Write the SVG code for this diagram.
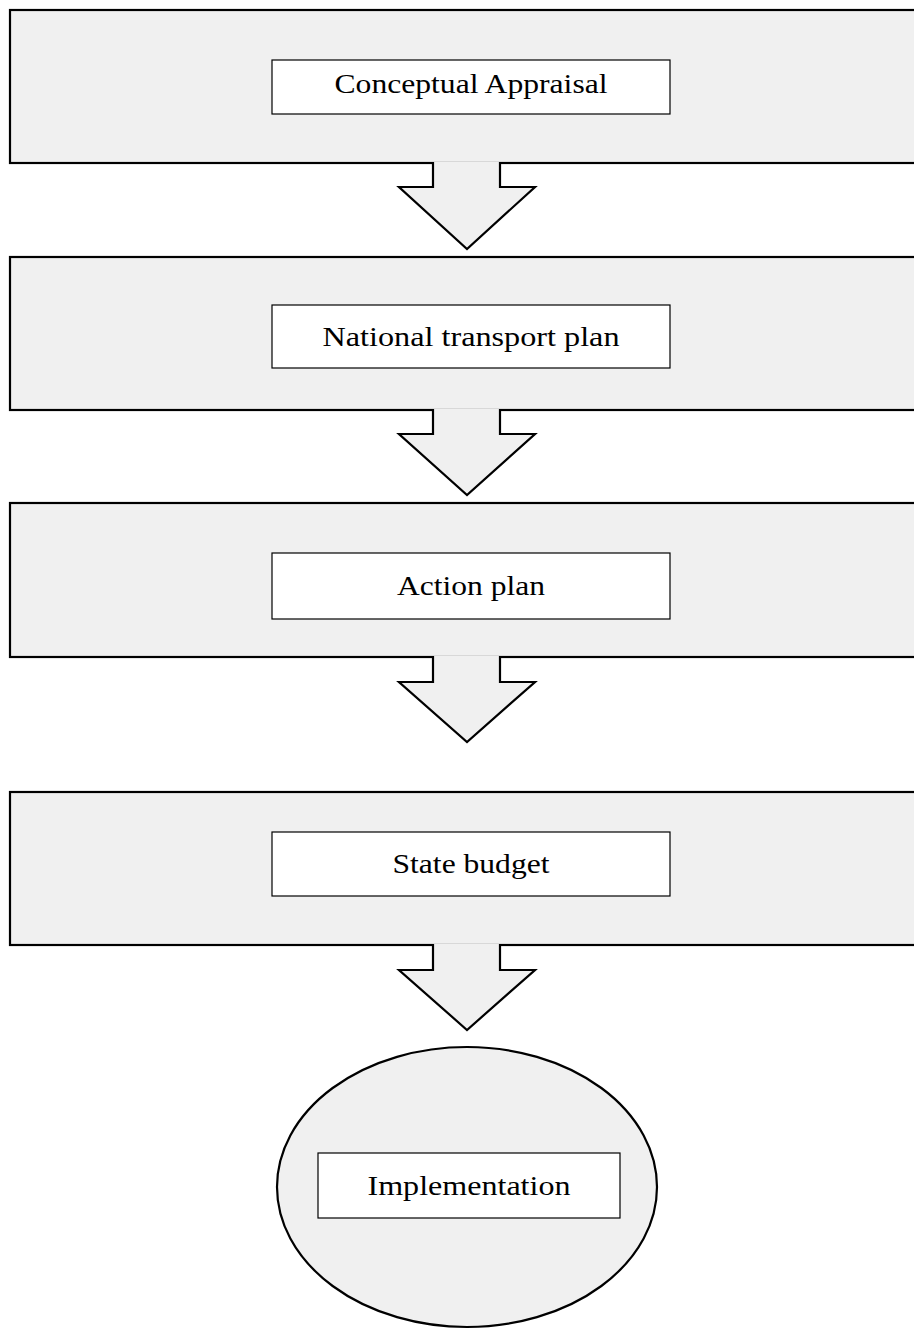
<svg xmlns="http://www.w3.org/2000/svg" width="914" height="1329" viewBox="0 0 914 1329">
<style>
.big{fill:#f0f0f0;stroke:#000;stroke-width:2.2}
.inner{fill:#fff;stroke:#000;stroke-width:1.2}
.arr{fill:#f0f0f0;stroke:#000;stroke-width:2.2;stroke-linejoin:miter}
.t{font-family:"Liberation Serif","DejaVu Serif",serif;font-size:27px;fill:#000;text-anchor:middle;dominant-baseline:central}
</style>
<rect width="914" height="1329" fill="#fff"/>
<g id="node1">
<rect class="big" x="10" y="10" width="910" height="153"/>
<rect class="inner" x="272" y="60" width="398" height="54"/>
<text class="t" x="471" y="84" textLength="273" lengthAdjust="spacingAndGlyphs">Conceptual Appraisal</text>
</g>
<g id="node2">
<rect class="big" x="10" y="257" width="910" height="153"/>
<rect class="inner" x="272" y="305" width="398" height="63"/>
<text class="t" x="471" y="337" textLength="297" lengthAdjust="spacingAndGlyphs">National transport plan</text>
</g>
<g id="node3">
<rect class="big" x="10" y="503" width="910" height="154"/>
<rect class="inner" x="272" y="553" width="398" height="66"/>
<text class="t" x="471" y="586" textLength="148" lengthAdjust="spacingAndGlyphs">Action plan</text>
</g>
<g id="node4">
<rect class="big" x="10" y="792" width="910" height="153"/>
<rect class="inner" x="272" y="832" width="398" height="64"/>
<text class="t" x="471" y="864" textLength="157" lengthAdjust="spacingAndGlyphs">State budget</text>
</g>
<g id="node5">
<ellipse class="big" cx="467" cy="1187" rx="190" ry="140"/>
<rect class="inner" x="318" y="1153" width="302" height="65"/>
<text class="t" x="469" y="1186" textLength="203" lengthAdjust="spacingAndGlyphs">Implementation</text>
</g>
<g id="connectors">
<path class="arr" d="M433,162 V187 H399 L467,249 L535,187 H500 V162"/>
<path class="arr" d="M433,409 V434 H399 L467,495 L535,434 H500 V409"/>
<path class="arr" d="M433,656 V682 H399 L467,742 L535,682 H500 V656"/>
<path class="arr" d="M433,944 V970 H399 L467,1030 L535,970 H500 V944"/>
</g>
</svg>
